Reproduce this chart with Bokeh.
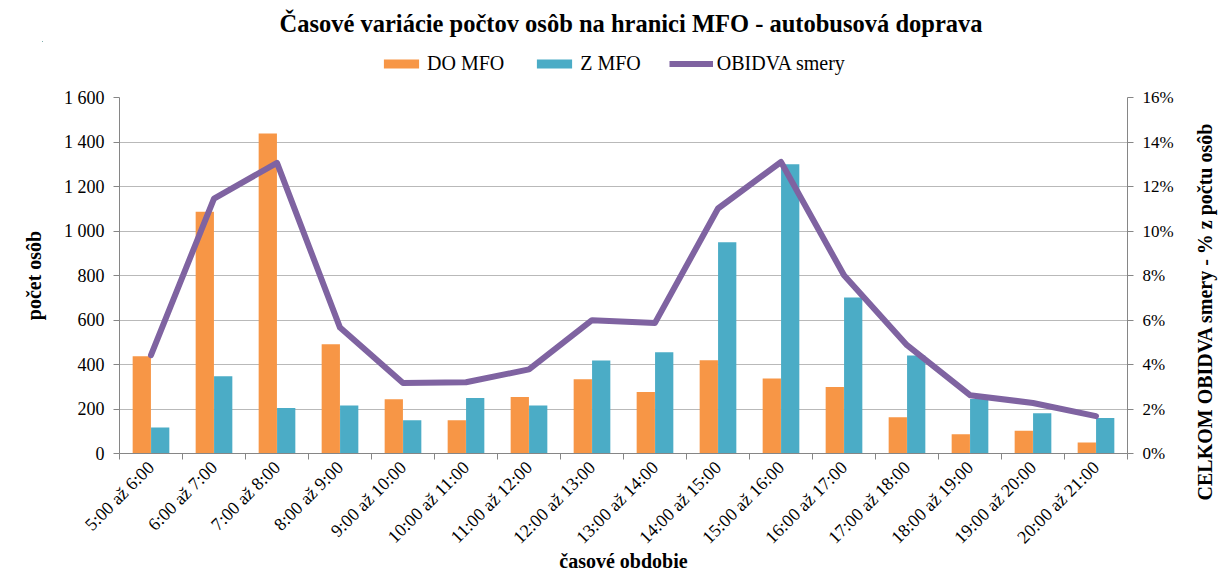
import math
from bokeh.plotting import figure
from bokeh.layouts import column, row
from bokeh.models import (ColumnDataSource, Range1d, LinearAxis, FixedTicker,
                          CustomJSTickFormatter, PrintfTickFormatter, Legend, LegendItem)
from bokeh.transform import dodge
from bokeh.embed import file_html
from bokeh.resources import INLINE

categories = ["5:00 až 6:00", "6:00 až 7:00", "7:00 až 8:00", "8:00 až 9:00",
              "9:00 až 10:00", "10:00 až 11:00", "11:00 až 12:00", "12:00 až 13:00",
              "13:00 až 14:00", "14:00 až 15:00", "15:00 až 16:00", "16:00 až 17:00",
              "17:00 až 18:00", "18:00 až 19:00", "19:00 až 20:00", "20:00 až 21:00"]
do_mfo = [437, 1086, 1438, 491, 244, 150, 254, 334, 276, 419, 337, 299, 163, 87, 102, 49]
z_mfo = [117, 347, 204, 216, 150, 249, 216, 418, 455, 950, 1300, 701, 440, 245, 181, 159]
obidva_pct = [4.42, 11.46, 13.06, 5.66, 3.17, 3.2, 3.78, 5.99, 5.87, 11.01, 13.1, 8.01,
              4.87, 2.62, 2.27, 1.68]
left_ticks = [0, 200, 400, 600, 800, 1000, 1200, 1400, 1600]
right_ticks = [0, 2, 4, 6, 8, 10, 12, 14, 16]
series_names = ["DO MFO", "Z MFO", "OBIDVA smery"]
title_text = "Časové variácie počtov osôb na hranici MFO - autobusová doprava"
x_title = "časové obdobie"
y_title = "počet osôb"
y2_title = "CELKOM OBIDVA smery - % z počtu osôb"

FONT = "Liberation Serif"
AXIS_GRAY = "#868686"
GRID_GRAY = "#b9b9b9"
C_DO, C_Z, C_L = "#F79646", "#4BACC6", "#7F63A1"

n = len(categories)
xs = [i + 0.5 for i in range(n)]
src = ColumnDataSource(dict(x=xs, cat=categories, do=do_mfo, z=z_mfo, pct=obidva_pct))

TOP_H, TOTAL_W, TOTAL_H = 85, 1219, 577
MAIN_W = 1190
MAIN_H = TOTAL_H - TOP_H


def no_frame_align(fig):
    try:
        fig.frame_align = False
    except Exception:
        pass


# ---------- header: title + legend ----------
# (the header's ranges lie away from all data, so its renderers only feed the legend)
pt = figure(width=TOTAL_W, height=TOP_H, x_range=Range1d(1000, 1001), y_range=Range1d(-2000, -1999),
            output_backend="svg", toolbar_location=None,
            min_border_left=42, min_border_right=0, min_border_top=41, min_border_bottom=0,
            background_fill_color="white", border_fill_color="white", outline_line_color=None)
no_frame_align(pt)
pt.axis.visible = False
pt.grid.visible = False
pt.title.text = title_text
pt.title.text_font = FONT
pt.title.text_font_size = "24.5px"
pt.title.text_font_style = "bold"
pt.title.align = "center"
pt.title.text_color = "black"
pt.title.standoff = 10
lg_do = pt.vbar(x="x", top="do", width=0.29, source=src, fill_color=C_DO, line_color=None)
lg_z = pt.vbar(x="x", top="z", width=0.29, source=src, fill_color=C_Z, line_color=None)
lg_l = pt.line(x="x", y="pct", source=src, line_width=6, line_color=C_L)
legend = Legend(items=[LegendItem(label=series_names[0], renderers=[lg_do]),
                       LegendItem(label=series_names[1], renderers=[lg_z]),
                       LegendItem(label=series_names[2], renderers=[lg_l])],
                orientation="horizontal", location=(337, 10),
                border_line_color=None, background_fill_alpha=0,
                label_text_font=FONT, label_text_font_size="20px", label_text_color="black",
                glyph_width=44, glyph_height=11, label_standoff=4, spacing=28,
                padding=0, margin=0)
pt.add_layout(legend, "center")

# ---------- main chart ----------
p = figure(width=MAIN_W, height=MAIN_H, x_range=Range1d(0, n), y_range=Range1d(0, 1600),
           output_backend="svg", toolbar_location=None,
           min_border_left=119, min_border_right=63, min_border_top=12, min_border_bottom=124,
           background_fill_color="white", border_fill_color="white", outline_line_color=None)
no_frame_align(p)
p.extra_y_ranges = {"pct": Range1d(0, 16)}

r_do = p.vbar(x=dodge("x", -0.146, range=p.x_range), top="do", width=0.29, source=src,
              fill_color=C_DO, line_color=None)
r_z = p.vbar(x=dodge("x", 0.146, range=p.x_range), top="z", width=0.29, source=src,
             fill_color=C_Z, line_color=None)
r_l = p.line(x="x", y="pct", source=src, y_range_name="pct", line_width=6,
             line_color=C_L, line_join="round", line_cap="round")

xa = p.xaxis[0]
xa.ticker = FixedTicker(ticks=xs, minor_ticks=list(range(n + 1)))
xa.major_label_overrides = {x: c for x, c in zip(xs, categories)}
xa.major_label_orientation = math.pi / 4
xa.major_tick_out = 0
xa.major_tick_in = 0
xa.minor_tick_out = 6
xa.minor_tick_in = 0
xa.minor_tick_line_color = AXIS_GRAY
xa.axis_line_color = AXIS_GRAY
xa.major_label_text_font = FONT
xa.major_label_text_font_size = "18px"
xa.major_label_text_color = "black"
xa.major_label_standoff = 5
xa.axis_label = x_title
xa.axis_label_text_font = FONT
xa.axis_label_text_font_size = "20px"
xa.axis_label_text_font_style = "bold"
xa.axis_label_text_color = "black"
xa.axis_label_standoff = -7
p.xgrid.visible = False

ya = p.yaxis[0]
ya.ticker = FixedTicker(ticks=left_ticks)
ya.formatter = CustomJSTickFormatter(code="""
    if (tick >= 1000) { return Math.floor(tick/1000) + ' ' + String(tick % 1000).padStart(3, '0'); }
    return String(tick);""")
ya.major_tick_out = 6
ya.major_tick_in = 0
ya.minor_tick_out = 0
ya.minor_tick_in = 0
ya.major_tick_line_color = AXIS_GRAY
ya.axis_line_color = AXIS_GRAY
ya.major_label_text_font = FONT
ya.major_label_text_font_size = "18px"
ya.major_label_text_color = "black"
ya.major_label_standoff = 9
ya.axis_label = y_title
ya.axis_label_text_font = FONT
ya.axis_label_text_font_size = "20px"
ya.axis_label_text_font_style = "bold"
ya.axis_label_text_color = "black"
ya.axis_label_standoff = 16
p.ygrid.ticker = FixedTicker(ticks=left_ticks)
p.ygrid.grid_line_color = GRID_GRAY

ra = LinearAxis(y_range_name="pct", ticker=FixedTicker(ticks=right_ticks),
                formatter=PrintfTickFormatter(format="%d%%"))
ra.major_tick_out = 6
ra.major_tick_in = 0
ra.minor_tick_out = 0
ra.minor_tick_in = 0
ra.major_tick_line_color = AXIS_GRAY
ra.axis_line_color = AXIS_GRAY
ra.major_label_text_font = FONT
ra.major_label_text_font_size = "17px"
ra.major_label_text_color = "black"
ra.major_label_standoff = 9
p.add_layout(ra, "right")

# ---------- right axis title (reads bottom-to-top) ----------
ps = figure(width=TOTAL_W - MAIN_W, height=MAIN_H, x_range=Range1d(0, 1), y_range=Range1d(0, 1),
            output_backend="svg", toolbar_location=None,
            min_border_left=25, min_border_right=0, min_border_top=10, min_border_bottom=50,
            background_fill_color="white", border_fill_color="white", outline_line_color=None)
no_frame_align(ps)
ps.xaxis.visible = False
ps.grid.visible = False
sa = ps.yaxis[0]
sa.ticker = FixedTicker(ticks=[])
sa.axis_line_color = None
sa.major_tick_out = 0
sa.major_tick_in = 0
sa.minor_tick_out = 0
sa.minor_tick_in = 0
sa.major_label_standoff = 0
sa.axis_label = y2_title
sa.axis_label_text_font = FONT
sa.axis_label_text_font_size = "20px"
sa.axis_label_text_font_style = "bold"
sa.axis_label_text_color = "black"
sa.axis_label_standoff = 0

layout = column(pt, row(p, ps))
open("out.html", "w").write(file_html(layout, INLINE))
